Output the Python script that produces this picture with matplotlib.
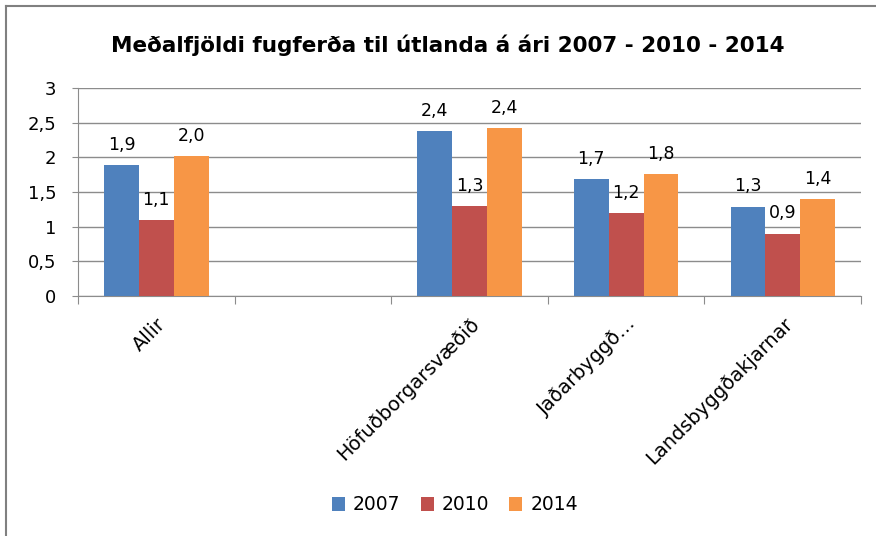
import numpy as np
import matplotlib.pyplot as plt
from matplotlib.lines import Line2D

categories = ["Allir", "", "Höfuðborgarsvæðið", "Jaðarbyggð…", "Landsbyggðakjarnar"]
years = ["2007", "2010", "2014"]
v2007 = [1.89, np.nan, 2.38, 1.69, 1.29]
v2010 = [1.10, np.nan, 1.30, 1.19, 0.90]
v2014 = [2.02, np.nan, 2.42, 1.76, 1.40]
colors = ["#4F81BD", "#C0504D", "#F79646"]


def main():
    plt.rcParams['font.family'] = ['DejaVu Sans']
    fig = plt.figure(figsize=(8.76, 5.36), dpi=100)
    ax = fig.add_axes([78 / 876, 1 - 296 / 536, (861 - 78) / 876, (296 - 88) / 536])

    x = np.arange(len(categories)) + 0.5
    w = 1 / 4.5
    series = [v2007, v2010, v2014]
    for i, (vals, col, lab) in enumerate(zip(series, colors, years)):
        pos = x + (i - 1) * w
        bars = ax.bar(pos, vals, width=w, color=col, label=lab, zorder=3)
        for b, v in zip(bars, vals):
            if np.isnan(v):
                continue
            ax.annotate(f"{v:.1f}".replace(".", ","), (b.get_x() + w / 2, v),
                        xytext=(0, 8), textcoords="offset points",
                        ha="center", va="bottom", fontsize=12.5)

    ax.set_xlim(0, len(categories))
    ax.set_ylim(0, 3)
    yt = np.arange(0, 3.01, 0.5)
    ax.set_yticks(yt)
    ax.set_yticklabels([f"{t:g}".replace(".", ",") for t in yt], fontsize=13)
    ax.yaxis.grid(True, color="#8c8c8c", linewidth=1, zorder=0)
    ax.set_axisbelow(True)

    ax.set_xticks(np.arange(len(categories) + 1))
    ax.set_xticklabels([])
    ax.set_xticks(x, minor=True)
    ax.set_xticklabels(categories, minor=True, rotation=45, ha="right", va="top",
                       rotation_mode="anchor", fontsize=14)
    ax.tick_params(axis="x", which="minor", length=0, pad=13)
    ax.tick_params(axis="x", which="major", length=6, color="#8c8c8c")
    ax.tick_params(axis="y", length=4.5, color="#8c8c8c", pad=11)

    for s in ["top", "right"]:
        ax.spines[s].set_visible(False)
    for s in ["left", "bottom"]:
        ax.spines[s].set_color("#8c8c8c")

    fig.text(448 / 876, 1 - 45 / 536, "Meðalfjöldi fugferða til útlanda á ári 2007 - 2010 - 2014",
             ha="center", va="center", fontsize=15.5, fontweight="bold")

    fig.legend(loc="center", bbox_to_anchor=(455 / 876, 1 - 505 / 536), ncol=3,
               frameon=False, fontsize=13.5, handlelength=0.7, handleheight=0.7,
               handletextpad=0.43, columnspacing=1.07)

    # chart border (only top and left edges are in view)
    bx, by = 6 / 876, 1 - 6 / 536
    fig.add_artist(Line2D([bx, 1.0], [by, by], color="#808080", linewidth=1.5))
    fig.add_artist(Line2D([bx, bx], [0.0, by], color="#808080", linewidth=1.5))

    fig.savefig("out.png", dpi=100)


if __name__ == "__main__":
    main()
